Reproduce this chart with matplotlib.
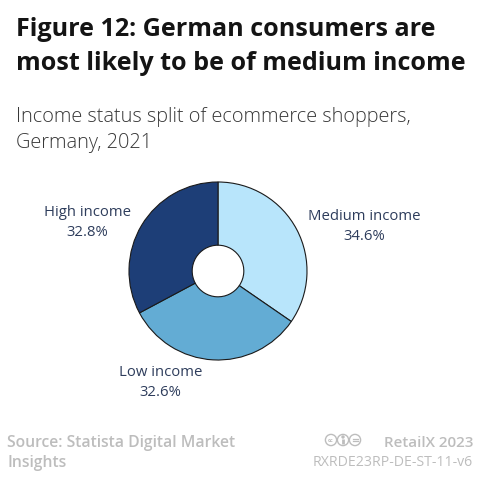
import matplotlib
matplotlib.use("Agg")
import matplotlib.pyplot as plt
from matplotlib.patches import Circle

plt.rcParams['font.family'] = ['Open Sans', 'DejaVu Sans']

# data
labels = ['Medium income', 'Low income', 'High income']
shares = [34.6, 32.6, 32.8]
colors = ['#b8e5fb', '#63acd4', '#1d3e77']

H = 492
fig = plt.figure(figsize=(4.9, 4.92), dpi=100)
ax = fig.add_axes([0, 0, 1, 1])

# donut
cx, cy, r = 218, H - 271, 89
ax.pie(shares, colors=colors, startangle=90, counterclock=False,
       center=(cx, cy), radius=r, frame=True,
       wedgeprops=dict(width=r * 0.71, edgecolor='#1a1a1a', linewidth=0.8))
ax.set_xlim(0, 490)
ax.set_ylim(0, H)
ax.set_aspect('equal')
ax.axis('off')

# title / subtitle (positions in px from top)
ax.text(16, H - 36, 'Figure 12: German consumers are', fontsize=18.1,
        fontweight='bold', color='#141414', va='baseline')
ax.text(16, H - 70, 'most likely to be of medium income', fontsize=18.1,
        fontweight='bold', color='#141414', va='baseline')
ax.text(16, H - 122, 'Income status split of ecommerce shoppers,', fontsize=14.3,
        fontweight='light', color='#383838', va='baseline')
ax.text(16, H - 148, 'Germany, 2021', fontsize=14.3,
        fontweight='light', color='#383838', va='baseline')

lab_col = '#2e3d5c'
lab_pos = {'Medium income': (364, 216), 'Low income': (160.5, 373),
           'High income': (87, 212)}
for name, val in zip(labels, shares):
    x, y = lab_pos[name]
    ax.text(x, H - y, name, fontsize=10.7, color=lab_col, ha='center', va='center')
    ax.text(x, H - y - 20, f'{val}%', fontsize=10.7, color=lab_col,
            ha='center', va='center')

# footer
grey = '#bdbdbd'
ax.text(7, H - 447, 'Source: Statista Digital Market', fontsize=11.3,
        fontweight='semibold', color=grey, va='baseline')
ax.text(7, H - 467, 'Insights', fontsize=11.3,
        fontweight='semibold', color=grey, va='baseline')
ax.text(473, H - 447, 'RetailX 2023', fontsize=10.9,
        fontweight='semibold', color=grey, va='baseline', ha='right')
ax.text(473, H - 466, 'RXRDE23RP-DE-ST-11-v6', fontsize=10.2,
        color=grey, va='baseline', ha='right')

# licence icons
iy = H - 440
for i in range(3):
    ax.add_patch(Circle((331 + i * 12, iy), 5.6, fill=False, ec=grey, lw=1.0))
ax.text(331, iy, 'cc', fontsize=4, color=grey, ha='center', va='center',
        fontweight='bold')
ax.add_patch(Circle((343, iy + 3), 1.0, color=grey))
ax.plot([343, 343], [iy - 3.5, iy + 1.4], color=grey, lw=2.0, solid_capstyle='butt')
ax.plot([352.5, 357.5], [iy + 1.2, iy + 1.2], color=grey, lw=0.9)
ax.plot([352.5, 357.5], [iy - 1.3, iy - 1.3], color=grey, lw=0.9)

fig.savefig('out.png', dpi=100, facecolor='white')
